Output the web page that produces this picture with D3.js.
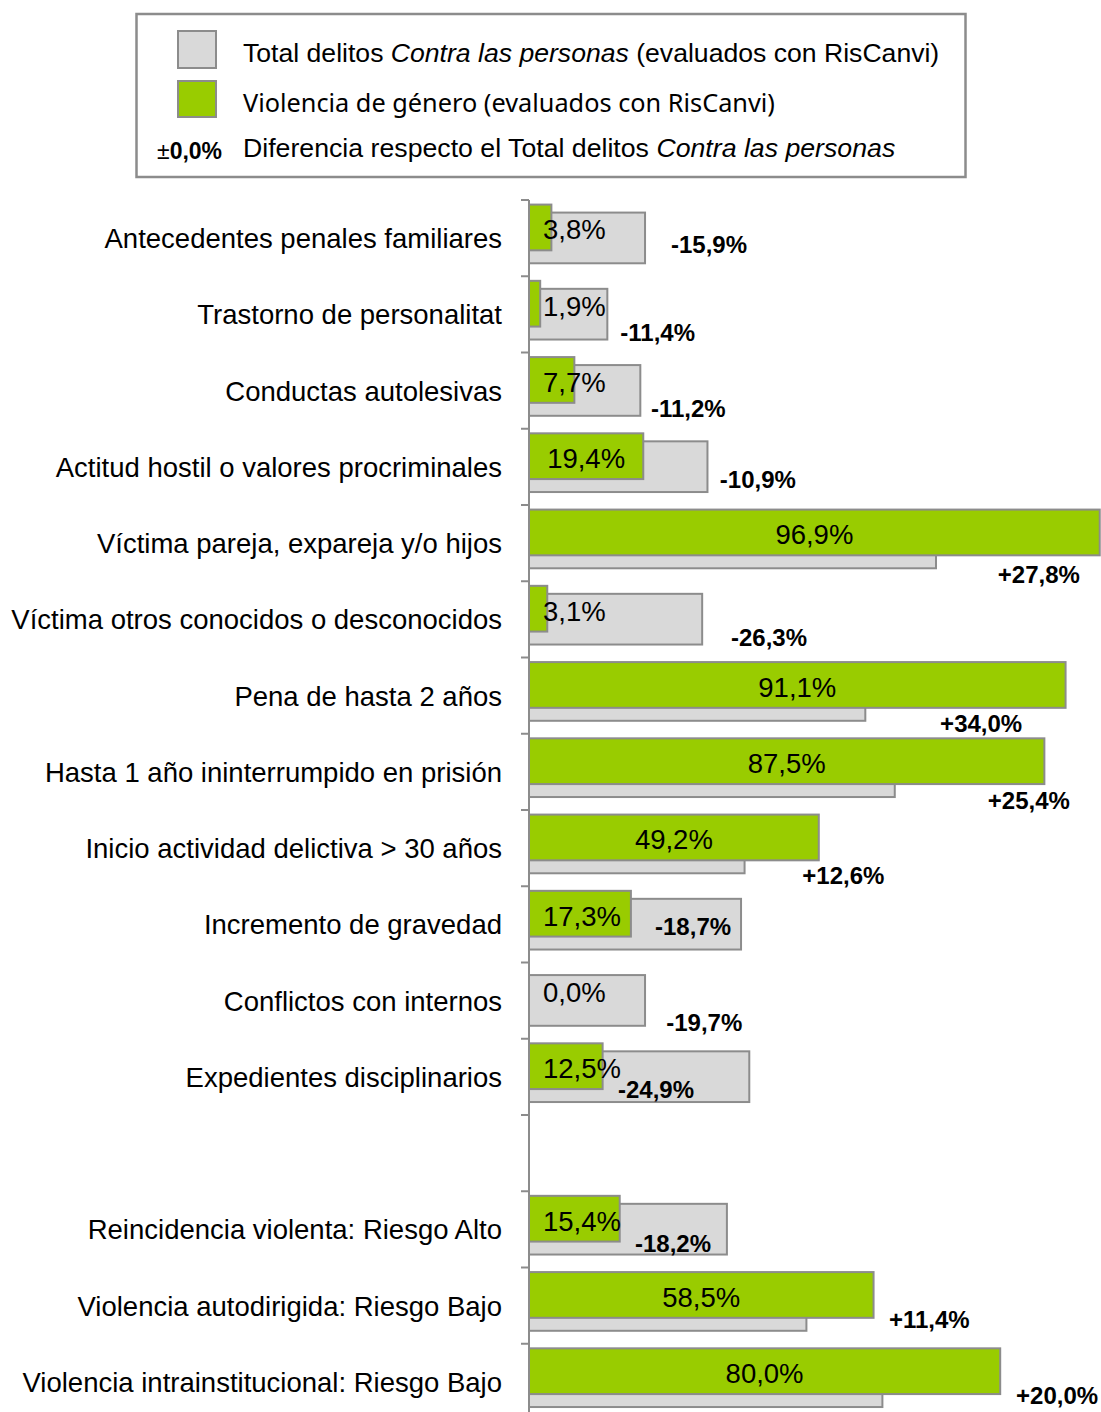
<!DOCTYPE html>
<html>
<head>
<meta charset="utf-8">
<script src="https://cdn.jsdelivr.net/npm/d3@7"></script>
<style>
  body { margin: 0; background: #fff; }
  svg { display: block; font-family: "Liberation Sans", Arial, sans-serif; }
</style>
</head>
<body>
<div id="chart"></div>
<script>
// data //////////////////////////////////////
var categories = [
  "Antecedentes penales familiares",
  "Trastorno de personalitat",
  "Conductas autolesivas",
  "Actitud hostil o valores procriminales",
  "Víctima pareja, expareja y/o hijos",
  "Víctima otros conocidos o desconocidos",
  "Pena de hasta 2 años",
  "Hasta 1 año ininterrumpido en prisión",
  "Inicio actividad delictiva > 30 años",
  "Incremento de gravedad",
  "Conflictos con internos",
  "Expedientes disciplinarios",
  "",
  "Reincidencia violenta: Riesgo Alto",
  "Violencia autodirigida: Riesgo Bajo",
  "Violencia intrainstitucional: Riesgo Bajo"
];
var genero = [3.8, 1.9, 7.7, 19.4, 96.9, 3.1, 91.1, 87.5, 49.2, 17.3, 0.0, 12.5, null, 15.4, 58.5, 80.0];
var totalPersonas = [19.7, 13.3, 18.9, 30.3, 69.1, 29.4, 57.1, 62.1, 36.6, 36.0, 19.7, 37.4, null, 33.6, 47.1, 60.0];
var diferencia = [-15.9, -11.4, -11.2, -10.9, 27.8, -26.3, 34.0, 25.4, 12.6, -18.7, -19.7, -24.9, null, -18.2, 11.4, 20.0];

// where the difference labels sit (x in % units, y as fraction of the row)
var diffLabelX = [24.1, 15.5, 20.7, 32.4, 79.6, 34.3, 69.8, 77.9, 46.4, 21.4, 23.3, 15.1, null, 18.0, 61.1, 82.7];
var diffLabelY = [0.58, 0.74, 0.74, 0.66, 0.91, 0.74, 0.86, 0.88, 0.86, 0.53, 0.79, 0.67, null, 0.68, 0.68, 0.68];

var fmt = function(v) { return v.toFixed(1).replace(".", ",") + "%"; };
var fmtDiff = function(v) { return (v > 0 ? "+" : "") + fmt(v); };

// setup ///////////////////////////////////////
var width = 1101, height = 1412;
var axisX = 529;
var svg = d3.select("#chart").append("svg")
    .attr("width", width)
    .attr("height", height);

var x = d3.scaleLinear().domain([0, 100]).range([axisX, axisX + 589]);
var y = d3.scaleBand().domain(d3.range(categories.length)).range([200, 200 + 76.25 * categories.length]);
var bw = y.bandwidth();

var rows = d3.range(categories.length).filter(function(i) { return genero[i] !== null; });

// legend //////////////////////////////////////
svg.append("rect")
    .attr("x", 136.5).attr("y", 14)
    .attr("width", 829).attr("height", 163)
    .attr("fill", "#fff").attr("stroke", "#8c8c8c").attr("stroke-width", 2.5);

svg.append("rect").attr("x", 178).attr("y", 31).attr("width", 38).attr("height", 37)
    .attr("fill", "#d9d9d9").attr("stroke", "#8c8c8c").attr("stroke-width", 2);
svg.append("rect").attr("x", 178).attr("y", 81).attr("width", 38).attr("height", 36)
    .attr("fill", "#99cc00").attr("stroke", "#8c8c8c").attr("stroke-width", 2);

var l1 = svg.append("text").attr("x", 243).attr("y", 62).style("font-size", "26.6px");
l1.append("tspan").text("Total delitos ");
l1.append("tspan").style("font-style", "italic").text("Contra las personas");
l1.append("tspan").text(" (evaluados con RisCanvi)");

svg.append("text").attr("x", 243).attr("y", 112)
    .style("font-family", "'Noto Sans', 'Open Sans', sans-serif")
    .style("font-size", "25.3px")
    .text("Violencia de género (evaluados con RisCanvi)");

var l3 = svg.append("text").attr("x", 243).attr("y", 157).style("font-size", "26.7px");
l3.append("tspan").text("Diferencia respecto el Total delitos ");
l3.append("tspan").style("font-style", "italic").text("Contra las personas");

var pm = svg.append("text").attr("x", 157).attr("y", 159).style("font-size", "23px");
pm.append("tspan").text("±");
pm.append("tspan").style("font-weight", "bold").text("0,0%");

// bars ////////////////////////////////////////
svg.selectAll(".total").data(rows).enter().append("rect")
    .attr("class", "total")
    .attr("x", x(0))
    .attr("y", function(i) { return y(i) + bw * 0.165; })
    .attr("width", function(i) { return x(totalPersonas[i]) - x(0); })
    .attr("height", bw * 0.665)
    .attr("fill", "#d9d9d9").attr("stroke", "#8c8c8c").attr("stroke-width", 2);

svg.selectAll(".genero").data(rows).enter().append("rect")
    .attr("class", "genero")
    .attr("x", x(0))
    .attr("y", function(i) { return y(i) + bw * 0.06; })
    .attr("width", function(i) { return x(genero[i]) - x(0); })
    .attr("height", bw * 0.6)
    .attr("fill", "#99cc00").attr("stroke", "#8c8c8c").attr("stroke-width", 2)
    .style("display", function(i) { return genero[i] > 0 ? null : "none"; });

// axis ////////////////////////////////////////
svg.append("line")
    .attr("x1", axisX).attr("x2", axisX)
    .attr("y1", y.range()[0]).attr("y2", y.range()[1])
    .attr("stroke", "#8c8c8c").attr("stroke-width", 2);

svg.selectAll(".tick").data(d3.range(categories.length + 1)).enter().append("line")
    .attr("class", "tick")
    .attr("x1", axisX - 8).attr("x2", axisX)
    .attr("y1", function(i) { return y.range()[0] + i * bw; })
    .attr("y2", function(i) { return y.range()[0] + i * bw; })
    .attr("stroke", "#8c8c8c").attr("stroke-width", 2);

svg.selectAll(".cat").data(d3.range(categories.length)).enter().append("text")
    .attr("class", "cat")
    .attr("x", 502)
    .attr("y", function(i) { return y(i) + bw / 2 + 10; })
    .attr("text-anchor", "end")
    .style("font-size", "27.5px")
    .text(function(i) { return categories[i]; });

// value labels ////////////////////////////////
svg.selectAll(".val").data(rows).enter().append("text")
    .attr("class", "val")
    .attr("y", function(i) { return y(i) + bw * 0.36 + 12; })
    .style("font-size", "27.5px")
    .text(function(i) { return fmt(genero[i]); })
    .attr("x", function(i) {
        var w = this.getComputedTextLength();
        var c = (x(0) + x(genero[i])) / 2;
        return Math.max(axisX + 14, c - w / 2);
    });

// difference labels ///////////////////////////
svg.selectAll(".diff").data(rows).enter().append("text")
    .attr("class", "diff")
    .attr("x", function(i) { return x(diffLabelX[i]); })
    .attr("y", function(i) { return y(i) + bw * diffLabelY[i] + 8.5; })
    .style("font-size", "24px")
    .style("font-weight", "bold")
    .text(function(i) { return fmtDiff(diferencia[i]); });
</script>
</body>
</html>
